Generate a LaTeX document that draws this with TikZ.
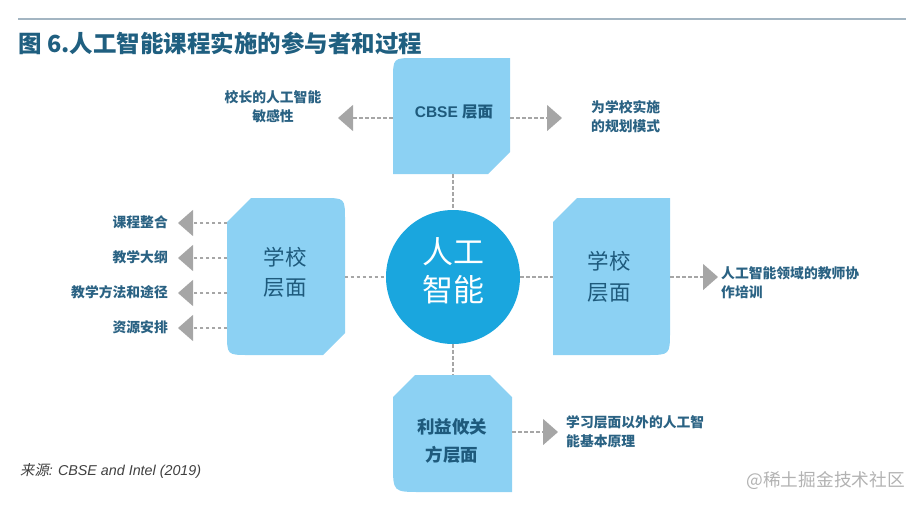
\documentclass[tikz,border=0pt]{standalone}
\usepackage{fontspec}
\setmainfont{Liberation Sans}
\newfontfamily\cjk[AutoFakeSlant=0.2]{Noto Sans CJK SC}
\usetikzlibrary{arrows.meta}
\definecolor{boxblue}{HTML}{8CD1F3}
\definecolor{cblue}{HTML}{1AA6DE}
\definecolor{boxtxt}{HTML}{1E5A7C}
\definecolor{labtxt}{HTML}{2A6283}
\definecolor{agray}{HTML}{A6A6A6}
\definecolor{ruleclr}{HTML}{A3B5C2}
\definecolor{titleclr}{HTML}{1F5F80}
\begin{document}
\begin{tikzpicture}[x=1pt,y=-1pt,
  conn/.style={draw=agray, line width=1.4pt, dash pattern=on 3.5pt off 2.5pt},
  arr/.style={conn, -{Triangle[width=26pt,length=15pt]}},
  lab/.style={inner sep=0pt, text=labtxt, font=\cjk\bfseries\fontsize{13.8}{19}\selectfont},
  boxlab/.style={inner sep=0pt, text=boxtxt, align=center},
  shapebox/.style={fill=boxblue},
  area/.style={inner sep=0pt, minimum width=117pt}]
\useasboundingbox (0,0) rectangle (921,507);
% title
\draw[ruleclr, line width=2pt] (18,19) -- (906,19);
\node[anchor=west, inner sep=0pt, text=titleclr, font=\cjk\bfseries\fontsize{23.5}{27}\selectfont] (title) at (18,43) {图 6.人工智能课程实施的参与者和过程};
% shapes
\fill[shapebox] (393,174) -- (393,80) .. controls (393,58) .. (415,58) -- (510,58) -- (510,152) -- (488,174) -- cycle;
\fill[shapebox] (227,222) -- (251,198) -- (323,198) .. controls (345,198) .. (345,220) -- (345,333) -- (323,355) -- (249,355) .. controls (227,355) .. (227,333) -- cycle;
\fill[shapebox] (553,355) -- (553,222) -- (577,198) -- (670,198) -- (670,331) .. controls (670,355) .. (646,355) -- cycle;
\fill[shapebox] (393,397) -- (415,375) -- (490,375) -- (512,397) -- (512,492) -- (421,492) .. controls (393,492) .. (393,464) -- cycle;
% named areas of the boxes
\node[area, minimum height=116pt] (cbse) at (451.5,116) {};
\node[area, minimum height=157pt] (lschool) at (286,277) {};
\node[area, minimum height=157pt] (rschool) at (611.5,277) {};
\node[area, minimum width=119pt, minimum height=117pt] (stake) at (452.5,433.5) {};
% box texts
\node[boxlab, font=\fontsize{15.5}{18}\selectfont\bfseries] at (454,112) {CBSE {\cjk 层面}};
\node[boxlab, font=\cjk\fontsize{21.5}{30}\selectfont] at (285,272) {学校\\层面};
\node[boxlab, font=\cjk\fontsize{21.5}{31}\selectfont] at (609,277) {学校\\层面};
\node[boxlab, font=\cjk\bfseries\fontsize{17.5}{28}\selectfont] at (452,441) {利益攸关\\方层面};
% circle
\node[circle, fill=cblue, minimum size=134pt, inner sep=0pt] (ai) at (453,277) {};
\node[inner sep=0pt, text=white, align=center, font=\cjk\fontsize{31}{38}\selectfont] at (453,271) {人工\\智能};
% connectors between boxes and circle
\draw[conn] (ai.north |- cbse.south) -- (ai.north);
\draw[conn] (ai.south) -- (ai.south |- stake.north);
\draw[conn] (lschool.east) -- (ai.west);
\draw[conn] (ai.east) -- (rschool.west);
% labels
\node[lab, align=center] (l_top_left) at (273,107) {校长的人工智能\\敏感性};
\node[lab, align=left, anchor=west] (l_top_right) at (591,117) {为学校实施\\的规划模式};
\node[lab, anchor=east] (l1) at (168,222) {课程整合};
\node[lab, anchor=east] (l2) at (168,257) {教学大纲};
\node[lab, anchor=east] (l3) at (168,292) {教学方法和途径};
\node[lab, anchor=east] (l4) at (168,327) {资源安排};
\node[lab, align=left, anchor=west] (l_right) at (721,283) {人工智能领域的教师协\\作培训};
\node[lab, align=left, anchor=west] (l_bottom) at (566,432) {学习层面以外的人工智\\能基本原理};
% arrow tips
\coordinate (t_tl) at (338,118);
\coordinate (t_tr) at (562,118);
\coordinate (t1) at (178,223);
\coordinate (t2) at (178,258);
\coordinate (t3) at (178,293);
\coordinate (t4) at (178,328);
\coordinate (t_r) at (718,277);
\coordinate (t_b) at (558,432);
\draw[arr] (cbse.west |- t_tl) -- (t_tl);
\draw[arr] (cbse.east |- t_tr) -- (t_tr);
\draw[arr] (lschool.west |- t1) -- (t1);
\draw[arr] (lschool.west |- t2) -- (t2);
\draw[arr] (lschool.west |- t3) -- (t3);
\draw[arr] (lschool.west |- t4) -- (t4);
\draw[arr] (rschool.east |- t_r) -- (t_r);
\draw[arr] (stake.east |- t_b) -- (t_b);
% source and watermark
\node[anchor=west, inner sep=0pt, text=black!75, font=\itshape\fontsize{14.3}{16}\selectfont] (src) at (20,471) {{\cjk 来源}: CBSE and Intel (2019)};
\node[anchor=east, inner sep=0pt, text=black!30, font=\cjk\fontsize{17.7}{20}\selectfont] (wm) at (905,481) {@稀土掘金技术社区};
\end{tikzpicture}
\end{document}
